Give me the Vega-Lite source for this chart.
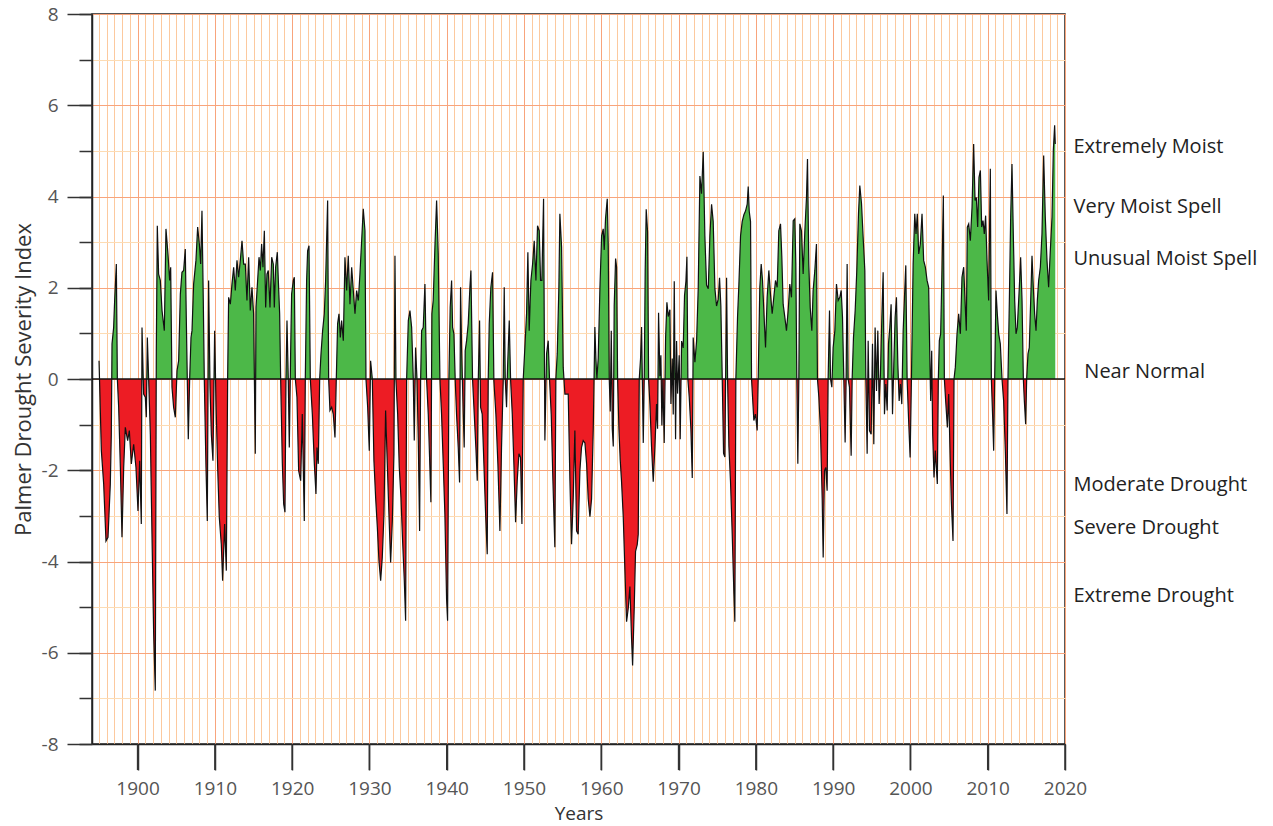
{
  "$schema": "https://vega.github.io/schema/vega-lite/v6.json",
  "width": 973,
  "height": 730,
  "autosize": {"type": "none"},
  "padding": {"left": 92, "top": 14, "right": 208, "bottom": 82},
  "background": "white",
  "config": {"font": "Open Sans", "view": {"stroke": "#222", "strokeWidth": 1.5}},
  "resolve": {"axis": {"x": "independent", "y": "independent"}},
  "datasets": {
    "pdsi": [
{"year":1895.01,"pdsi":0.40},{"year":1895.31,"pdsi":-1.57},{"year":1895.61,"pdsi":-2.30},{"year":1895.91,"pdsi":-3.55},{"year":1896.17,"pdsi":-3.47},{"year":1896.47,"pdsi":-2.30},{"year":1896.60,"pdsi":-1.21},{"year":1896.69,"pdsi":0.77},{"year":1896.90,"pdsi":1.13},{"year":1897.03,"pdsi":1.72},{"year":1897.25,"pdsi":2.52},{"year":1897.38,"pdsi":0.00},{"year":1897.55,"pdsi":-0.62},{"year":1897.77,"pdsi":-1.94},{"year":1897.98,"pdsi":-3.47},{"year":1898.20,"pdsi":-1.94},{"year":1898.41,"pdsi":-1.06},{"year":1898.71,"pdsi":-1.35},{"year":1898.93,"pdsi":-1.13},{"year":1899.19,"pdsi":-1.86},{"year":1899.49,"pdsi":-1.43},{"year":1899.79,"pdsi":-1.94},{"year":1900.05,"pdsi":-2.89},{"year":1900.27,"pdsi":-1.79},{"year":1900.48,"pdsi":-3.18},{"year":1900.57,"pdsi":1.13},{"year":1900.78,"pdsi":-0.33},{"year":1901.00,"pdsi":-0.40},{"year":1901.13,"pdsi":-0.84},{"year":1901.26,"pdsi":0.91},{"year":1901.43,"pdsi":0.00},{"year":1901.65,"pdsi":-1.21},{"year":1901.86,"pdsi":-3.40},{"year":1902.08,"pdsi":-5.59},{"year":1902.29,"pdsi":-6.83},{"year":1902.42,"pdsi":0.60},{"year":1902.55,"pdsi":3.36},{"year":1902.72,"pdsi":2.30},{"year":1902.94,"pdsi":2.16},{"year":1903.16,"pdsi":1.50},{"year":1903.46,"pdsi":1.06},{"year":1903.67,"pdsi":3.29},{"year":1903.93,"pdsi":2.74},{"year":1904.15,"pdsi":2.16},{"year":1904.28,"pdsi":2.45},{"year":1904.45,"pdsi":-0.18},{"year":1904.66,"pdsi":-0.62},{"year":1904.88,"pdsi":-0.84},{"year":1905.10,"pdsi":0.18},{"year":1905.31,"pdsi":0.40},{"year":1905.53,"pdsi":1.86},{"year":1905.74,"pdsi":2.34},{"year":1905.96,"pdsi":2.38},{"year":1906.17,"pdsi":2.85},{"year":1906.30,"pdsi":1.35},{"year":1906.43,"pdsi":0.00},{"year":1906.56,"pdsi":-1.32},{"year":1906.73,"pdsi":-0.04},{"year":1906.91,"pdsi":0.91},{"year":1907.04,"pdsi":1.06},{"year":1907.25,"pdsi":2.08},{"year":1907.55,"pdsi":2.60},{"year":1907.77,"pdsi":3.33},{"year":1907.99,"pdsi":2.96},{"year":1908.16,"pdsi":2.52},{"year":1908.33,"pdsi":3.69},{"year":1908.50,"pdsi":1.72},{"year":1908.63,"pdsi":0.00},{"year":1908.85,"pdsi":-1.94},{"year":1909.02,"pdsi":-3.11},{"year":1909.19,"pdsi":2.16},{"year":1909.37,"pdsi":-0.18},{"year":1909.54,"pdsi":-1.21},{"year":1909.75,"pdsi":-1.79},{"year":1909.97,"pdsi":1.06},{"year":1910.14,"pdsi":-0.48},{"year":1910.36,"pdsi":-1.94},{"year":1910.57,"pdsi":-3.03},{"year":1910.83,"pdsi":-3.62},{"year":1911.00,"pdsi":-4.42},{"year":1911.26,"pdsi":-3.18},{"year":1911.48,"pdsi":-4.20},{"year":1911.65,"pdsi":0.00},{"year":1911.78,"pdsi":1.79},{"year":1912.00,"pdsi":1.64},{"year":1912.21,"pdsi":2.08},{"year":1912.43,"pdsi":2.45},{"year":1912.64,"pdsi":1.94},{"year":1912.86,"pdsi":2.60},{"year":1913.07,"pdsi":2.23},{"year":1913.29,"pdsi":2.60},{"year":1913.51,"pdsi":3.03},{"year":1913.72,"pdsi":2.52},{"year":1913.94,"pdsi":2.52},{"year":1914.15,"pdsi":1.72},{"year":1914.37,"pdsi":2.67},{"year":1914.58,"pdsi":1.50},{"year":1914.80,"pdsi":2.01},{"year":1915.01,"pdsi":1.43},{"year":1915.23,"pdsi":-1.64},
{"year":1915.32,"pdsi":1.57},{"year":1915.53,"pdsi":2.16},{"year":1915.71,"pdsi":2.67},{"year":1915.88,"pdsi":2.38},{"year":1916.05,"pdsi":2.96},{"year":1916.22,"pdsi":2.45},{"year":1916.40,"pdsi":3.25},{"year":1916.57,"pdsi":1.57},{"year":1916.74,"pdsi":2.30},{"year":1916.91,"pdsi":2.38},{"year":1917.13,"pdsi":1.57},{"year":1917.35,"pdsi":2.67},{"year":1917.56,"pdsi":2.52},{"year":1917.69,"pdsi":1.57},{"year":1917.86,"pdsi":2.45},{"year":1918.08,"pdsi":2.78},{"year":1918.21,"pdsi":2.16},{"year":1918.38,"pdsi":1.43},{"year":1918.51,"pdsi":0.00},{"year":1918.73,"pdsi":-1.86},{"year":1918.90,"pdsi":-2.74},{"year":1919.07,"pdsi":-2.92},{"year":1919.20,"pdsi":0.00},{"year":1919.33,"pdsi":1.28},{"year":1919.50,"pdsi":-0.04},{"year":1919.63,"pdsi":-1.50},{"year":1919.80,"pdsi":0.55},{"year":1919.93,"pdsi":1.86},{"year":1920.15,"pdsi":2.16},{"year":1920.28,"pdsi":2.23},{"year":1920.41,"pdsi":0.00},{"year":1920.62,"pdsi":-0.40},{"year":1920.84,"pdsi":-2.01},{"year":1921.10,"pdsi":-2.23},{"year":1921.31,"pdsi":-0.77},{"year":1921.57,"pdsi":-3.11},{"year":1921.70,"pdsi":0.00},{"year":1921.87,"pdsi":2.16},{"year":1922.00,"pdsi":2.81},{"year":1922.18,"pdsi":2.92},{"year":1922.35,"pdsi":0.00},{"year":1922.61,"pdsi":-0.77},{"year":1922.87,"pdsi":-1.86},{"year":1923.08,"pdsi":-2.52},{"year":1923.21,"pdsi":-1.50},{"year":1923.38,"pdsi":-1.86},{"year":1923.56,"pdsi":0.00},{"year":1923.73,"pdsi":0.55},{"year":1923.94,"pdsi":1.06},{"year":1924.16,"pdsi":1.43},{"year":1924.33,"pdsi":2.16},{"year":1924.59,"pdsi":3.91},{"year":1924.72,"pdsi":0.00},{"year":1924.89,"pdsi":-0.69},{"year":1925.11,"pdsi":-0.62},{"year":1925.32,"pdsi":-0.77},{"year":1925.54,"pdsi":-1.28},{"year":1925.71,"pdsi":0.00},{"year":1925.88,"pdsi":1.21},{"year":1926.06,"pdsi":1.43},{"year":1926.23,"pdsi":0.91},{"year":1926.40,"pdsi":1.28},{"year":1926.62,"pdsi":0.84},{"year":1926.83,"pdsi":2.67},{"year":1927.05,"pdsi":1.94},{"year":1927.26,"pdsi":2.70},{"year":1927.48,"pdsi":1.64},{"year":1927.70,"pdsi":2.45},{"year":1927.91,"pdsi":1.94},{"year":1928.13,"pdsi":1.43},{"year":1928.34,"pdsi":1.94},{"year":1928.56,"pdsi":1.72},{"year":1928.77,"pdsi":2.30},{"year":1928.99,"pdsi":3.03},{"year":1929.20,"pdsi":3.73},{"year":1929.42,"pdsi":3.25},{"year":1929.55,"pdsi":0.00},{"year":1929.77,"pdsi":-0.62},{"year":1929.98,"pdsi":-1.57},{"year":1930.15,"pdsi":0.40},{"year":1930.37,"pdsi":0.00},{"year":1930.58,"pdsi":-1.79},{"year":1930.80,"pdsi":-2.60},{"year":1931.02,"pdsi":-3.25},{"year":1931.23,"pdsi":-3.98},{"year":1931.45,"pdsi":-4.42},{"year":1931.66,"pdsi":-3.91},{"year":1931.88,"pdsi":-2.96},{"year":1932.09,"pdsi":-0.69},{"year":1932.31,"pdsi":-1.86},{"year":1932.52,"pdsi":-2.96},{"year":1932.74,"pdsi":-4.02},{"year":1932.96,"pdsi":-3.11},{"year":1933.17,"pdsi":-1.64},{"year":1933.30,"pdsi":2.70},{"year":1933.43,"pdsi":-0.04},{"year":1933.65,"pdsi":-0.77},{"year":1933.86,"pdsi":-1.94},{"year":1934.08,"pdsi":-2.60},{"year":1934.29,"pdsi":-3.55},{"year":1934.51,"pdsi":-4.42},{"year":1934.68,"pdsi":-5.30},{"year":1934.81,"pdsi":0.00},{"year":1935.03,"pdsi":1.28},{"year":1935.24,"pdsi":1.50},{"year":1935.46,"pdsi":1.13},{"year":1935.67,"pdsi":0.00},{"year":1935.80,"pdsi":-1.35},{"year":1935.97,"pdsi":0.69},{"year":1936.15,"pdsi":0.00},{"year":1936.32,"pdsi":-1.35},{"year":1936.49,"pdsi":-3.33},{"year":1936.62,"pdsi":-0.04},
{"year":1936.75,"pdsi":1.06},{"year":1936.96,"pdsi":1.13},{"year":1937.18,"pdsi":2.08},{"year":1937.39,"pdsi":0.00},{"year":1937.61,"pdsi":-0.77},{"year":1937.82,"pdsi":-1.94},{"year":1937.95,"pdsi":-2.70},{"year":1938.08,"pdsi":1.43},{"year":1938.25,"pdsi":1.72},{"year":1938.47,"pdsi":2.89},{"year":1938.69,"pdsi":3.91},{"year":1938.90,"pdsi":2.74},{"year":1939.12,"pdsi":0.00},{"year":1939.33,"pdsi":-0.77},{"year":1939.55,"pdsi":-1.86},{"year":1939.76,"pdsi":-2.96},{"year":1939.98,"pdsi":-4.82},{"year":1940.11,"pdsi":-5.30},{"year":1940.28,"pdsi":0.00},{"year":1940.45,"pdsi":1.57},{"year":1940.63,"pdsi":2.16},{"year":1940.76,"pdsi":1.13},{"year":1940.93,"pdsi":0.99},{"year":1941.10,"pdsi":-0.04},{"year":1941.27,"pdsi":-0.77},{"year":1941.49,"pdsi":-1.50},{"year":1941.66,"pdsi":-2.27},{"year":1941.79,"pdsi":2.01},{"year":1941.92,"pdsi":0.69},{"year":1942.14,"pdsi":-0.77},{"year":1942.26,"pdsi":-1.50},{"year":1942.39,"pdsi":0.62},{"year":1942.57,"pdsi":0.84},{"year":1942.78,"pdsi":1.21},{"year":1943.00,"pdsi":2.01},{"year":1943.13,"pdsi":2.38},{"year":1943.34,"pdsi":0.00},{"year":1943.56,"pdsi":-0.77},{"year":1943.77,"pdsi":-1.50},{"year":1943.95,"pdsi":-2.23},{"year":1944.08,"pdsi":-0.04},{"year":1944.25,"pdsi":1.28},{"year":1944.38,"pdsi":-0.62},{"year":1944.59,"pdsi":-0.77},{"year":1944.81,"pdsi":-1.86},{"year":1945.03,"pdsi":-2.96},{"year":1945.24,"pdsi":-3.84},{"year":1945.37,"pdsi":0.00},{"year":1945.50,"pdsi":1.21},{"year":1945.71,"pdsi":2.01},{"year":1945.93,"pdsi":2.34},{"year":1946.10,"pdsi":-0.04},{"year":1946.36,"pdsi":-0.77},{"year":1946.62,"pdsi":-1.86},{"year":1946.88,"pdsi":-3.33},{"year":1947.09,"pdsi":-1.50},{"year":1947.31,"pdsi":-0.04},{"year":1947.44,"pdsi":2.01},{"year":1947.57,"pdsi":0.00},{"year":1947.74,"pdsi":-0.62},{"year":1947.87,"pdsi":0.26},{"year":1948.09,"pdsi":1.28},{"year":1948.26,"pdsi":0.00},{"year":1948.48,"pdsi":-0.77},{"year":1948.69,"pdsi":-1.86},{"year":1948.91,"pdsi":-3.14},{"year":1949.12,"pdsi":-2.23},{"year":1949.34,"pdsi":-1.64},{"year":1949.55,"pdsi":-1.72},{"year":1949.73,"pdsi":-3.18},{"year":1949.90,"pdsi":0.00},{"year":1950.11,"pdsi":0.69},{"year":1950.33,"pdsi":1.43},{"year":1950.50,"pdsi":2.78},{"year":1950.67,"pdsi":1.06},{"year":1950.89,"pdsi":2.16},{"year":1951.11,"pdsi":2.52},{"year":1951.32,"pdsi":3.03},{"year":1951.54,"pdsi":2.16},{"year":1951.75,"pdsi":3.36},{"year":1951.97,"pdsi":3.25},{"year":1952.14,"pdsi":2.16},{"year":1952.31,"pdsi":2.16},{"year":1952.53,"pdsi":3.95},{"year":1952.70,"pdsi":-1.35},{"year":1952.92,"pdsi":0.55},{"year":1953.13,"pdsi":0.84},{"year":1953.30,"pdsi":0.00},{"year":1953.52,"pdsi":-0.77},{"year":1953.74,"pdsi":-2.23},{"year":1953.99,"pdsi":-3.69},{"year":1954.12,"pdsi":0.00},{"year":1954.30,"pdsi":0.55},{"year":1954.51,"pdsi":2.01},{"year":1954.64,"pdsi":3.62},{"year":1954.86,"pdsi":2.89},{"year":1955.07,"pdsi":0.26},{"year":1955.29,"pdsi":-0.33},{"year":1955.72,"pdsi":-0.33},{"year":1955.94,"pdsi":-2.23},{"year":1956.15,"pdsi":-3.62},{"year":1956.37,"pdsi":-2.60},{"year":1956.58,"pdsi":-1.13},{"year":1956.80,"pdsi":-3.33},{"year":1957.01,"pdsi":-3.40},{"year":1957.23,"pdsi":-2.01},{"year":1957.44,"pdsi":-1.50},{"year":1957.66,"pdsi":-1.35},
{"year":1957.88,"pdsi":-1.40},{"year":1958.10,"pdsi":-1.86},{"year":1958.31,"pdsi":-2.63},{"year":1958.53,"pdsi":-3.02},{"year":1958.74,"pdsi":-2.63},{"year":1958.96,"pdsi":-1.09},{"year":1959.17,"pdsi":1.14},{"year":1959.30,"pdsi":0.45},{"year":1959.43,"pdsi":0.00},{"year":1959.60,"pdsi":0.45},{"year":1959.82,"pdsi":1.98},{"year":1960.04,"pdsi":3.14},{"year":1960.25,"pdsi":3.29},{"year":1960.38,"pdsi":2.83},{"year":1960.55,"pdsi":3.52},{"year":1960.77,"pdsi":3.95},{"year":1960.90,"pdsi":2.91},{"year":1961.03,"pdsi":0.00},{"year":1961.16,"pdsi":-0.71},{"year":1961.29,"pdsi":1.06},{"year":1961.42,"pdsi":-1.09},{"year":1961.55,"pdsi":-1.48},{"year":1961.67,"pdsi":1.60},{"year":1961.85,"pdsi":2.64},{"year":1961.98,"pdsi":2.45},{"year":1962.11,"pdsi":0.00},{"year":1962.28,"pdsi":-1.09},{"year":1962.45,"pdsi":-1.78},{"year":1962.62,"pdsi":-2.25},{"year":1962.84,"pdsi":-3.02},{"year":1963.05,"pdsi":-4.17},{"year":1963.27,"pdsi":-5.32},{"year":1963.49,"pdsi":-5.02},{"year":1963.70,"pdsi":-4.55},{"year":1963.92,"pdsi":-5.71},{"year":1964.05,"pdsi":-6.28},{"year":1964.26,"pdsi":-5.02},{"year":1964.43,"pdsi":-3.78},{"year":1964.65,"pdsi":-3.63},{"year":1964.78,"pdsi":-3.40},{"year":1964.91,"pdsi":0.00},{"year":1965.08,"pdsi":0.45},{"year":1965.21,"pdsi":1.14},{"year":1965.43,"pdsi":-1.40},{"year":1965.56,"pdsi":0.06},{"year":1965.68,"pdsi":2.37},{"year":1965.81,"pdsi":3.72},{"year":1965.99,"pdsi":3.22},{"year":1966.12,"pdsi":0.00},{"year":1966.29,"pdsi":-0.55},{"year":1966.50,"pdsi":-1.48},{"year":1966.72,"pdsi":-2.25},{"year":1966.94,"pdsi":-1.48},{"year":1967.15,"pdsi":-0.55},{"year":1967.28,"pdsi":-1.09},{"year":1967.41,"pdsi":1.45},{"year":1967.58,"pdsi":0.06},{"year":1967.71,"pdsi":0.52},{"year":1967.84,"pdsi":-1.02},{"year":1967.97,"pdsi":0.00},{"year":1968.14,"pdsi":-1.40},{"year":1968.32,"pdsi":0.91},{"year":1968.49,"pdsi":1.68},{"year":1968.66,"pdsi":1.37},{"year":1968.88,"pdsi":1.52},{"year":1969.01,"pdsi":-0.55},{"year":1969.18,"pdsi":0.45},{"year":1969.31,"pdsi":-0.78},{"year":1969.44,"pdsi":2.14},{"year":1969.61,"pdsi":-1.32},{"year":1969.74,"pdsi":0.83},{"year":1969.87,"pdsi":-0.32},{"year":1970.08,"pdsi":0.52},{"year":1970.21,"pdsi":-1.32},{"year":1970.39,"pdsi":0.83},{"year":1970.60,"pdsi":0.68},{"year":1970.77,"pdsi":1.83},{"year":1970.95,"pdsi":2.14},{"year":1971.08,"pdsi":2.68},{"year":1971.20,"pdsi":0.00},{"year":1971.38,"pdsi":-0.40},{"year":1971.59,"pdsi":-1.09},{"year":1971.77,"pdsi":-2.17},{"year":1971.89,"pdsi":0.91},{"year":1972.11,"pdsi":0.37},{"year":1972.33,"pdsi":0.83},{"year":1972.54,"pdsi":1.98},{"year":1972.76,"pdsi":4.45},{"year":1972.97,"pdsi":4.06},{"year":1973.19,"pdsi":4.98},{"year":1973.40,"pdsi":3.14},{"year":1973.62,"pdsi":2.06},{"year":1973.84,"pdsi":1.98},{"year":1974.05,"pdsi":3.14},{"year":1974.27,"pdsi":3.83},{"year":1974.48,"pdsi":3.45},{"year":1974.70,"pdsi":1.98},{"year":1974.91,"pdsi":1.60},{"year":1975.13,"pdsi":1.75},{"year":1975.30,"pdsi":2.22},{"year":1975.47,"pdsi":1.60},{"year":1975.65,"pdsi":0.00},{"year":1975.82,"pdsi":-1.63},{"year":1975.99,"pdsi":-1.71},{"year":1976.21,"pdsi":2.22},{"year":1976.34,"pdsi":0.00},{"year":1976.51,"pdsi":-1.48},{"year":1976.72,"pdsi":-2.25},{"year":1976.94,"pdsi":-3.40},{"year":1977.16,"pdsi":-4.71},{"year":1977.28,"pdsi":-5.32},{"year":1977.41,"pdsi":0.00},{"year":1977.63,"pdsi":1.37},{"year":1977.80,"pdsi":2.06},{"year":1978.02,"pdsi":3.14},{"year":1978.23,"pdsi":3.45},{"year":1978.45,"pdsi":3.60},{"year":1978.66,"pdsi":3.68},{"year":1978.88,"pdsi":3.83},{"year":1979.01,"pdsi":4.22},{"year":1979.14,"pdsi":3.68},{"year":1979.31,"pdsi":3.45},{"year":1979.44,"pdsi":0.00},
{"year":1979.74,"pdsi":-0.91},{"year":1979.95,"pdsi":-0.77},{"year":1980.17,"pdsi":-1.13},{"year":1980.30,"pdsi":0.00},{"year":1980.51,"pdsi":2.01},{"year":1980.69,"pdsi":2.52},{"year":1980.86,"pdsi":2.16},{"year":1981.07,"pdsi":1.35},{"year":1981.25,"pdsi":0.69},{"year":1981.46,"pdsi":1.79},{"year":1981.68,"pdsi":2.38},{"year":1981.89,"pdsi":1.86},{"year":1982.11,"pdsi":1.43},{"year":1982.32,"pdsi":1.79},{"year":1982.54,"pdsi":2.16},{"year":1982.76,"pdsi":2.01},{"year":1982.97,"pdsi":3.25},{"year":1983.19,"pdsi":3.40},{"year":1983.36,"pdsi":2.67},{"year":1983.53,"pdsi":1.64},{"year":1983.75,"pdsi":1.35},{"year":1983.96,"pdsi":1.06},{"year":1984.18,"pdsi":1.50},{"year":1984.39,"pdsi":2.08},{"year":1984.61,"pdsi":1.79},{"year":1984.83,"pdsi":3.47},{"year":1985.04,"pdsi":3.51},{"year":1985.17,"pdsi":2.52},{"year":1985.30,"pdsi":0.00},{"year":1985.43,"pdsi":-1.86},{"year":1985.56,"pdsi":0.00},{"year":1985.69,"pdsi":3.40},{"year":1985.90,"pdsi":3.25},{"year":1986.12,"pdsi":2.30},{"year":1986.34,"pdsi":3.25},{"year":1986.55,"pdsi":3.98},{"year":1986.68,"pdsi":4.82},{"year":1986.85,"pdsi":2.52},{"year":1987.03,"pdsi":1.57},{"year":1987.24,"pdsi":1.06},{"year":1987.41,"pdsi":1.94},{"year":1987.63,"pdsi":2.38},{"year":1987.84,"pdsi":2.96},{"year":1987.97,"pdsi":0.00},{"year":1988.15,"pdsi":-0.40},{"year":1988.36,"pdsi":-1.13},{"year":1988.58,"pdsi":-2.60},{"year":1988.71,"pdsi":-3.91},{"year":1988.88,"pdsi":-2.01},{"year":1989.05,"pdsi":-1.94},{"year":1989.22,"pdsi":-2.45},{"year":1989.35,"pdsi":0.00},{"year":1989.53,"pdsi":1.50},{"year":1989.66,"pdsi":0.00},{"year":1989.83,"pdsi":-0.18},{"year":1990.00,"pdsi":0.69},{"year":1990.22,"pdsi":1.06},{"year":1990.43,"pdsi":2.08},{"year":1990.65,"pdsi":1.72},{"year":1990.86,"pdsi":1.79},{"year":1991.04,"pdsi":1.94},{"year":1991.21,"pdsi":1.35},{"year":1991.38,"pdsi":0.00},{"year":1991.55,"pdsi":-1.39},{"year":1991.68,"pdsi":0.00},{"year":1991.81,"pdsi":2.52},{"year":1991.94,"pdsi":0.00},{"year":1992.11,"pdsi":-0.18},{"year":1992.33,"pdsi":-1.68},{"year":1992.46,"pdsi":0.00},{"year":1992.63,"pdsi":0.91},{"year":1992.85,"pdsi":1.50},{"year":1993.06,"pdsi":2.38},{"year":1993.28,"pdsi":3.62},{"year":1993.45,"pdsi":4.24},{"year":1993.67,"pdsi":3.84},{"year":1993.88,"pdsi":3.11},{"year":1994.10,"pdsi":2.38},{"year":1994.23,"pdsi":0.00},{"year":1994.40,"pdsi":-1.64},{"year":1994.53,"pdsi":0.84},{"year":1994.70,"pdsi":-1.13},{"year":1994.92,"pdsi":-1.21},{"year":1995.09,"pdsi":0.77},{"year":1995.26,"pdsi":-1.43},{"year":1995.43,"pdsi":1.13},{"year":1995.61,"pdsi":-0.26},{"year":1995.78,"pdsi":1.06},{"year":1995.95,"pdsi":-0.55},{"year":1996.12,"pdsi":0.11},{"year":1996.30,"pdsi":1.35},{"year":1996.47,"pdsi":2.34},{"year":1996.64,"pdsi":-0.77},{"year":1996.81,"pdsi":-0.11},{"year":1996.99,"pdsi":-0.69},{"year":1997.16,"pdsi":0.77},{"year":1997.33,"pdsi":1.13},{"year":1997.50,"pdsi":1.64},{"year":1997.68,"pdsi":-0.77},{"year":1997.85,"pdsi":0.33},{"year":1998.02,"pdsi":1.35},{"year":1998.19,"pdsi":1.79},{"year":1998.37,"pdsi":0.33},{"year":1998.54,"pdsi":-0.48},{"year":1998.71,"pdsi":-0.11},{"year":1998.88,"pdsi":-0.55},{"year":1999.06,"pdsi":1.06},{"year":1999.23,"pdsi":1.79},{"year":1999.40,"pdsi":2.49},{"year":1999.57,"pdsi":0.00},{"year":1999.75,"pdsi":-0.84},{"year":1999.96,"pdsi":-1.72},{"year":2000.13,"pdsi":0.00},{"year":2000.35,"pdsi":2.52},{"year":2000.56,"pdsi":3.62},
{"year":2000.72,"pdsi":3.18},{"year":2000.89,"pdsi":3.62},{"year":2001.07,"pdsi":2.74},{"year":2001.28,"pdsi":2.96},{"year":2001.50,"pdsi":3.62},{"year":2001.71,"pdsi":2.60},{"year":2001.93,"pdsi":2.45},{"year":2002.15,"pdsi":2.16},{"year":2002.36,"pdsi":2.01},{"year":2002.49,"pdsi":0.66},{"year":2002.62,"pdsi":-0.48},{"year":2002.75,"pdsi":0.62},{"year":2002.88,"pdsi":-1.21},{"year":2003.05,"pdsi":-2.16},{"year":2003.22,"pdsi":-1.57},{"year":2003.48,"pdsi":-2.30},{"year":2003.61,"pdsi":0.00},{"year":2003.74,"pdsi":0.84},{"year":2003.91,"pdsi":0.99},{"year":2004.09,"pdsi":2.45},{"year":2004.26,"pdsi":4.02},{"year":2004.39,"pdsi":0.00},{"year":2004.56,"pdsi":-0.48},{"year":2004.78,"pdsi":-1.06},{"year":2004.95,"pdsi":-0.33},{"year":2005.12,"pdsi":-1.57},{"year":2005.29,"pdsi":-2.67},{"year":2005.51,"pdsi":-3.55},{"year":2005.64,"pdsi":0.00},{"year":2005.81,"pdsi":0.26},{"year":2006.03,"pdsi":0.99},{"year":2006.24,"pdsi":1.43},{"year":2006.46,"pdsi":0.99},{"year":2006.67,"pdsi":2.23},{"year":2006.89,"pdsi":2.45},{"year":2007.10,"pdsi":1.57},{"year":2007.23,"pdsi":1.06},{"year":2007.36,"pdsi":3.33},{"year":2007.54,"pdsi":3.40},{"year":2007.75,"pdsi":3.03},{"year":2007.97,"pdsi":3.76},{"year":2008.18,"pdsi":5.15},{"year":2008.36,"pdsi":3.91},{"year":2008.53,"pdsi":3.98},{"year":2008.70,"pdsi":3.33},{"year":2008.87,"pdsi":4.42},{"year":2009.05,"pdsi":4.57},{"year":2009.22,"pdsi":3.33},{"year":2009.39,"pdsi":3.47},{"year":2009.56,"pdsi":3.18},{"year":2009.73,"pdsi":3.58},{"year":2009.91,"pdsi":2.60},{"year":2010.12,"pdsi":1.72},{"year":2010.34,"pdsi":4.61},{"year":2010.47,"pdsi":0.00},{"year":2010.64,"pdsi":-0.84},{"year":2010.77,"pdsi":-1.57},{"year":2010.90,"pdsi":0.00},{"year":2011.07,"pdsi":1.94},{"year":2011.24,"pdsi":1.43},{"year":2011.42,"pdsi":0.99},{"year":2011.63,"pdsi":0.77},{"year":2011.85,"pdsi":0.00},{"year":2012.06,"pdsi":-0.48},{"year":2012.28,"pdsi":-1.57},{"year":2012.49,"pdsi":-2.96},{"year":2012.62,"pdsi":0.00},{"year":2012.80,"pdsi":1.72},{"year":2012.97,"pdsi":3.55},{"year":2013.14,"pdsi":4.71},{"year":2013.31,"pdsi":3.18},{"year":2013.49,"pdsi":1.72},{"year":2013.66,"pdsi":0.99},{"year":2013.83,"pdsi":1.13},{"year":2014.09,"pdsi":2.01},{"year":2014.26,"pdsi":2.67},{"year":2014.44,"pdsi":1.72},{"year":2014.61,"pdsi":0.00},{"year":2014.74,"pdsi":-0.48},{"year":2014.91,"pdsi":-0.99},{"year":2015.04,"pdsi":0.00},{"year":2015.21,"pdsi":0.55},{"year":2015.38,"pdsi":0.69},{"year":2015.56,"pdsi":1.72},{"year":2015.73,"pdsi":2.70},{"year":2015.90,"pdsi":2.01},{"year":2016.07,"pdsi":1.43},{"year":2016.25,"pdsi":1.06},{"year":2016.42,"pdsi":1.72},{"year":2016.59,"pdsi":2.16},{"year":2016.81,"pdsi":2.45},{"year":2017.02,"pdsi":3.18},{"year":2017.24,"pdsi":4.90},{"year":2017.45,"pdsi":3.55},{"year":2017.67,"pdsi":2.60},{"year":2017.88,"pdsi":2.01},{"year":2018.10,"pdsi":2.81},{"year":2018.32,"pdsi":3.55},{"year":2018.49,"pdsi":5.01},{"year":2018.66,"pdsi":5.56},{"year":2018.74,"pdsi":5.15}
    ],
    "labels": [
      {"label": "Extremely Moist", "level": 5.08},
      {"label": "Very Moist Spell", "level": 3.76},
      {"label": "Unusual Moist Spell", "level": 2.63},
      {"label": "Near Normal", "level": 0.15},
      {"label": "Moderate Drought", "level": -2.32},
      {"label": "Severe Drought", "level": -3.26},
      {"label": "Extreme Drought", "level": -4.75}
    ],
    "decades": [
      {"decade": 1900}, {"decade": 1910}, {"decade": 1920}, {"decade": 1930}, {"decade": 1940},
      {"decade": 1950}, {"decade": 1960}, {"decade": 1970}, {"decade": 1980}, {"decade": 1990},
      {"decade": 2000}, {"decade": 2010}, {"decade": 2020}
    ]
  },
  "layer": [
    {
      "data": {"name": "pdsi"},
      "mark": {
        "type": "area",
        "fill": {
          "gradient": "linear",
          "x1": 0, "y1": 0, "x2": 0, "y2": 1,
          "stops": [
            {"offset": 0, "color": "#4cb848"},
            {"offset": 0.44875, "color": "#4cb848"},
            {"offset": 0.44875, "color": "#ed1c24"},
            {"offset": 1, "color": "#ed1c24"}
          ]
        },
        "fillOpacity": 1
      },
      "encoding": {
        "x": {
          "field": "year", "type": "quantitative",
          "scale": {"domain": [1894.1, 2020], "nice": false, "zero": false},
          "axis": {
            "orient": "bottom",
            "values": [1895,1896,1897,1898,1899,1900,1901,1902,1903,1904,1905,1906,1907,1908,1909,1910,1911,1912,1913,1914,1915,1916,1917,1918,1919,1920,1921,1922,1923,1924,1925,1926,1927,1928,1929,1930,1931,1932,1933,1934,1935,1936,1937,1938,1939,1940,1941,1942,1943,1944,1945,1946,1947,1948,1949,1950,1951,1952,1953,1954,1955,1956,1957,1958,1959,1960,1961,1962,1963,1964,1965,1966,1967,1968,1969,1970,1971,1972,1973,1974,1975,1976,1977,1978,1979,1980,1981,1982,1983,1984,1985,1986,1987,1988,1989,1990,1991,1992,1993,1994,1995,1996,1997,1998,1999,2000,2001,2002,2003,2004,2005,2006,2007,2008,2009,2010,2011,2012,2013,2014,2015,2016,2017,2018,2019,2020],
            "labels": false,
            "ticks": false,
            "domain": false,
            "title": null,
            "grid": true,
            "gridColor": {"condition": {"test": "datum.value % 10 === 0", "value": "#f8a47c"}, "value": "#fcc99e"},
            "gridWidth": 1
          }
        },
        "y": {
          "field": "pdsi", "type": "quantitative",
          "scale": {"domain": [-8, 8], "nice": false, "zero": false},
          "axis": {
            "orient": "left",
            "values": [-8,-7,-6,-5,-4,-3,-2,-1,0,1,2,3,4,5,6,7,8],
            "labels": false,
            "ticks": true,
            "tickSize": 13,
            "tickColor": "#333",
            "tickWidth": 1.5,
            "domain": true,
            "domainColor": "#222",
            "domainWidth": 1.5,
            "title": null,
            "grid": true,
            "gridColor": {"condition": {"test": "datum.value % 2 === 0", "value": "#f8a47c"}, "value": "#fddcb4"},
            "gridWidth": 1
          }
        },
        "y2": {"datum": 0}
      }
    },
    {
      "data": {"name": "pdsi"},
      "mark": {"type": "line", "color": "#111", "strokeWidth": 1.2},
      "encoding": {
        "x": {
          "field": "year", "type": "quantitative",
          "axis": {
            "orient": "bottom",
            "values": [1900,1910,1920,1930,1940,1950,1960,1970,1980,1990,2000,2010,2020],
            "labelExpr": "'' + datum.value",
            "labelOverlap": false,
            "labelFlush": false,
            "labelFontSize": 19,
            "labelColor": "#555",
            "labelPadding": 9,
            "grid": false,
            "ticks": true,
            "tickSize": 26,
            "tickColor": "#333",
            "tickWidth": 1.5,
            "domain": true,
            "domainColor": "#222",
            "domainWidth": 1.5,
            "title": "Years",
            "titleFontSize": 19,
            "titleFontWeight": "normal",
            "titleColor": "#333",
            "titlePadding": 6
          }
        },
        "y": {
          "field": "pdsi", "type": "quantitative",
          "axis": {
            "orient": "left",
            "values": [-8,-6,-4,-2,0,2,4,6,8],
            "labelExpr": "'' + datum.value",
            "labelOverlap": false,
            "labelFlush": false,
            "labelFontSize": 19,
            "labelColor": "#555",
            "labelPadding": 9,
            "grid": false,
            "ticks": true,
            "tickSize": 25,
            "tickColor": "#333",
            "tickWidth": 1.5,
            "domain": false,
            "title": "Palmer Drought Severity Index",
            "titleFontSize": 22,
            "titleFontWeight": "normal",
            "titleColor": "#333",
            "titlePadding": 6
          }
        }
      }
    },
    {
      "data": {"name": "decades"},
      "mark": {"type": "rule", "color": "#333", "strokeWidth": 1.5, "clip": false},
      "encoding": {
        "x": {"field": "decade", "type": "quantitative", "axis": null},
        "y": {"datum": -8, "axis": null},
        "y2": {"datum": -8.57}
      }
    },
    {
      "data": {"values": [{}]},
      "mark": {"type": "rule", "color": "#111", "strokeWidth": 1.5},
      "encoding": {"y": {"datum": 0, "axis": null}}
    },
    {
      "data": {"name": "labels"},
      "transform": [{"filter": "datum.label !== 'Near Normal'"}],
      "mark": {"type": "text", "align": "left", "baseline": "middle", "fontSize": 20, "color": "#222"},
      "encoding": {
        "x": {"datum": 2021.1, "axis": null},
        "y": {"field": "level", "type": "quantitative", "axis": null},
        "text": {"field": "label"}
      }
    },
    {
      "data": {"name": "labels"},
      "transform": [{"filter": "datum.label === 'Near Normal'"}],
      "mark": {"type": "text", "align": "left", "baseline": "middle", "fontSize": 20, "color": "#222"},
      "encoding": {
        "x": {"datum": 2022.5, "axis": null},
        "y": {"field": "level", "type": "quantitative", "axis": null},
        "text": {"field": "label"}
      }
    }
  ]
}
